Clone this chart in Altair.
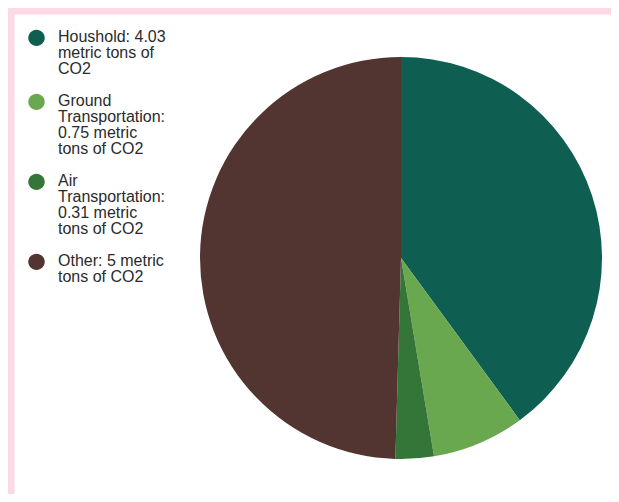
import textwrap
import altair as alt
import pandas as pd

categories = ["Houshold", "Ground Transportation", "Air Transportation", "Other"]
values = [4.03, 0.75, 0.31, 5]
colors = ["#0e5e51", "#6aa84f", "#347637", "#523431"]

labels = ["|".join(textwrap.wrap(f"{c}: {v:g} metric tons of CO2", width=15))
          for c, v in zip(categories, values)]

df = pd.DataFrame({"label": labels, "value": values, "idx": list(range(len(values)))})

# circle in Vega's [-1, 1] symbol box, nudged up beside the first text line
raised_circle = "M-1,-0.44A1,1,0,1,1,1,-0.44A1,1,0,1,1,-1,-0.44Z"

chart = (
    alt.Chart(df)
    .mark_arc(radius=201)
    .encode(
        theta=alt.Theta("value:Q", stack=True),
        color=alt.Color(
            "label:N",
            sort=labels,
            scale=alt.Scale(domain=labels, range=colors),
            legend=alt.Legend(
                title=None,
                orient="none",
                legendX=14,
                legendY=19,
                labelExpr="split(datum.label, '|')",
                labelFont="Liberation Sans",
                labelFontSize=16,
                labelColor="#2b2b2b",
                labelBaseline="alphabetic",
                labelOffset=13,
                labelLimit=300,
                symbolType=raised_circle,
                symbolSize=272,
                symbolStrokeWidth=0,
                symbolOpacity=1,
                rowPadding=15,
            ),
        ),
        order=alt.Order("idx:Q"),
        x=alt.value(387),
        y=alt.value(244),
    )
    .properties(
        width=597,
        height=480,
        autosize="none",
        padding={"left": 6, "top": 6, "right": 0, "bottom": 0},
        background="#fdd9e6",
    )
    .configure(style={"guide-label": {"lineHeight": 16}})
    .configure_view(fill="white", stroke="transparent")
)

chart.save("out.html", embed_options={"renderer": "svg", "actions": False})
